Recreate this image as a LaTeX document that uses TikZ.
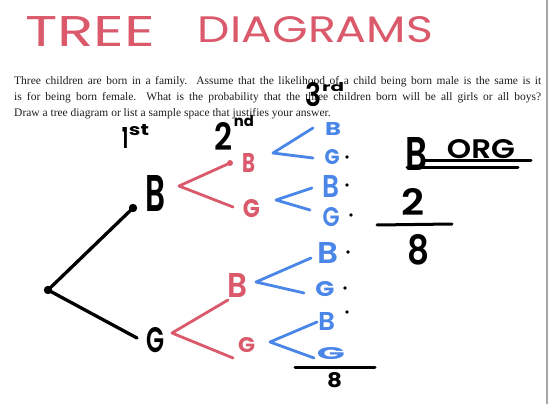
\documentclass[tikz,border=0pt]{standalone}
\usepackage{fontspec}
\usepackage{graphicx}
\setmainfont{Liberation Serif}
\newfontfamily\hand{Poppins}
\newfontfamily\handm{Poppins}[UprightFont={* Medium}]
\newfontfamily\hands{Poppins}[UprightFont={* SemiBold}]
\definecolor{hred}{HTML}{DA5A6B}
\definecolor{hblue}{HTML}{4A86E8}
\definecolor{ptext}{HTML}{1E1E1E}
\newcommand{\hw}[3]{\resizebox{#1pt}{#2pt}{\hand #3}}
\newcommand{\hwm}[3]{\resizebox{#1pt}{#2pt}{\handm #3}}
\newcommand{\hws}[3]{\resizebox{#1pt}{#2pt}{\hands #3}}
\newcommand{\hwb}[3]{\resizebox{#1pt}{#2pt}{\hand\bfseries #3}}
\begin{document}
\begin{tikzpicture}[x=1pt,y=-1pt,
  hl/.style={inner sep=0pt, outer sep=0pt},
  para/.style={anchor=base west, inner sep=0pt, text=ptext, font=\fontsize{11.5}{14}\selectfont},
  tb/.style={line width=3.3pt, line cap=round, black},
  rb/.style={line width=2.8pt, line cap=round, line join=round, hred},
  bb/.style={line width=2.8pt, line cap=round, line join=round, hblue},
  ul/.style={line width=3pt, line cap=round, black}
  ]
\useasboundingbox (0,0) rectangle (550,404);
\fill[white] (0,0) rectangle (550,404);
\coordinate (bt) at (547,0);
\coordinate (bb) at (547,404);
\draw[black!35, line width=1.5pt] (bt) -- (bb);

% title
\node[hl, text=hred] (title1) at (90,31) {\hw{130}{30}{TREE}};
\node[hl, text=hred] (title2) at (315.5,30) {\hw{235}{26}{DIAGRAMS}};

% printed problem
\node[para] (p1) at (14,85) {\makebox[527pt][s]{Three children are born in a family.\ \ Assume that the likelihood of a child being born male is the same is it}};
\node[para] (p2) at (14,101) {\makebox[527pt][s]{is for being born female.\ \ What is the probability that the three children born will be all girls or all boys?}};
\node[para] (p3) at (14,117) {Draw a tree diagram or list a sample space that justifies your answer.};

% column headings
\node[hl] (h1) at (125,137.5) {\hwb{6}{21}{1}};
\node[hl] (h1s) at (139,130) {\hwb{20}{11}{st}};
\node[hl] (h2) at (224,136) {\hws{18}{28}{2}};
\node[hl] (h2s) at (244,121) {\hwb{20}{11}{nd}};
\node[hl] (h3) at (314,95) {\hws{16}{24}{3}};
\node[hl] (h3s) at (333,87) {\hwb{22}{9}{rd}};

% first level (black)
\coordinate (root) at (48,290);
\coordinate (e1b) at (133,208);
\coordinate (e1g) at (137,338);
\draw[tb] (root) -- (e1b);
\draw[tb] (root) -- (e1g);
\fill (root) circle (4.2);
\fill (e1b) circle (4.2);
\node[hl] (B1) at (155,193.5) {\hws{20}{36}{B}};
\node[hl] (G1) at (156,340) {\hws{18}{25}{G}};

% second level (red)
\coordinate (rv1) at (179,186);
\coordinate (re1) at (230,163);
\coordinate (re2) at (233,207);
\draw[rb] (re1) -- (rv1) -- (re2);
\fill[hred] (re1) circle (3);
\node[hl, text=hred] (rB1) at (248.5,162.5) {\hwb{13}{19}{B}};
\node[hl, text=hred] (rG1) at (251.5,209) {\hwb{17}{18}{G}};
\coordinate (rv2) at (172,333);
\coordinate (re3) at (228,300);
\coordinate (re4) at (233,358);
\draw[rb] (re3) -- (rv2) -- (re4);
\node[hl, text=hred] (rB2) at (237,285) {\hws{20}{24}{B}};
\node[hl, text=hred] (rG2) at (246.5,345.5) {\hwb{17}{15}{G}};

% third level (blue)
\coordinate (bv1) at (273,153);
\coordinate (be1) at (313,128);
\coordinate (be2) at (313,158);
\draw[bb] (be1) -- (bv1) -- (be2);
\coordinate (bv2) at (276,200);
\coordinate (be3) at (312,188);
\coordinate (be4) at (310,210);
\draw[bb] (be3) -- (bv2) -- (be4);
\coordinate (bv3) at (256,282);
\coordinate (be5) at (311,258);
\coordinate (be6) at (304,293);
\draw[bb] (be5) -- (bv3) -- (be6);
\coordinate (bv4) at (270,342);
\coordinate (be7) at (317,322);
\coordinate (be8) at (314,358);
\draw[bb] (be7) -- (bv4) -- (be8);
\node[hl, text=hblue] (bB1) at (333,128.5) {\hwb{16}{13}{B}};
\node[hl, text=hblue] (bG1) at (332,157.5) {\hwb{15}{15}{G}};
\node[hl, text=hblue] (bB2) at (331,186.5) {\hws{17}{22}{B}};
\node[hl, text=hblue] (bG2) at (331,217.5) {\hws{17}{19}{G}};
\node[hl, text=hblue] (bB3) at (327.5,252.5) {\hws{21}{21}{B}};
\node[hl, text=hblue] (bG3) at (325,289.5) {\hwb{19}{15}{G}};
\node[hl, text=hblue] (bB4) at (326.5,321) {\hws{17}{18}{B}};
\node[hl, text=hblue] (bG4) at (331,354) {\hwb{28}{12}{G}};

% outcome dots
\foreach \p in {(347,157),(347,185),(351,215),(348,252),(345,288),(347,312)}
  \fill \p circle (1.9);

% total outcomes under the tree
\coordinate (bl1) at (295,367);
\coordinate (bl2) at (375,367);
\draw[ul] (bl1) -- (bl2);
\node[hl] (eight1) at (334.5,380) {\hwb{15}{15}{8}};

% B or G answer
\node[hl] (aB) at (416,153.5) {\hws{22}{33}{B}};
\node[hl] (aORG) at (481,149) {\hws{68}{19}{ORG}};
\coordinate (u1a) at (425,161);
\coordinate (u1b) at (531,161);
\coordinate (u2a) at (407,168);
\coordinate (u2b) at (518,168);
\draw[ul] (u1a) -- (u1b);
\draw[ul] (u2a) -- (u2b);
\node[hl] (two) at (413.5,201.5) {\hws{23}{27}{2}};
\coordinate (fb1) at (377,225);
\coordinate (fb2) at (452,224);
\draw[ul] (fb1) -- (fb2);
\node[hl] (eight2) at (418,250) {\hws{22}{30}{8}};
\end{tikzpicture}
\end{document}
